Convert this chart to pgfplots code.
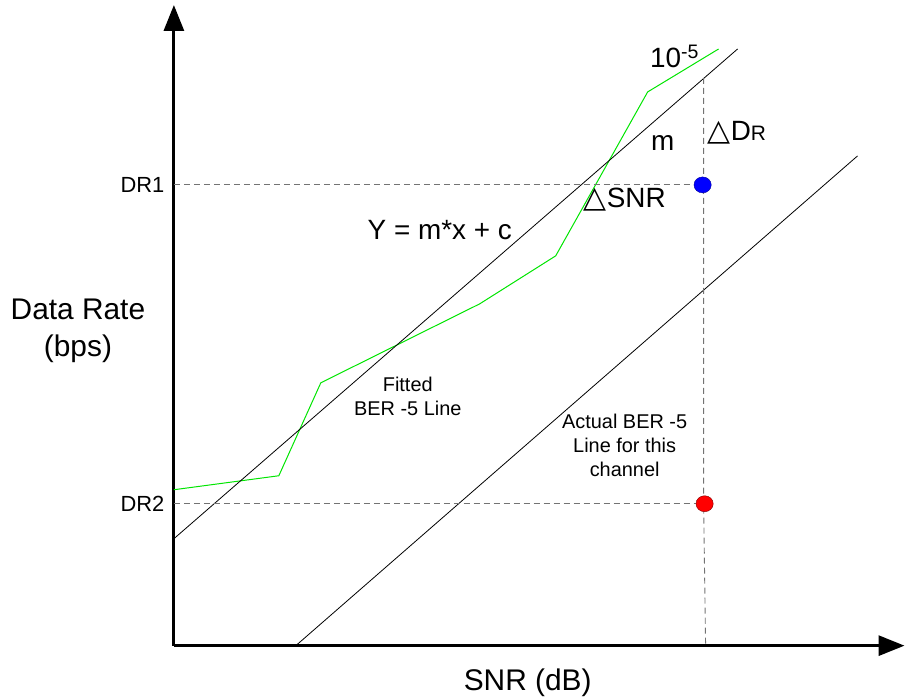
\documentclass[border=0pt]{standalone}
\usepackage{pgfplots}
\pgfplotsset{compat=1.18}
\usetikzlibrary{arrows.meta}
\usepackage{fontspec}
\setmainfont{Liberation Sans}
\newfontfamily\symfont{DejaVu Sans}

\newcommand{\labeltext}{\fontsize{30}{37}\selectfont}
\newcommand{\largetext}{\fontsize{28}{32}\selectfont}
\newcommand{\smalltext}{\fontsize{20}{24}\selectfont}

\begin{document}
\begin{tikzpicture}
\begin{axis}[
  scale only axis,
  width=731bp, height=641bp,
  xmin=174, xmax=905,
  ymin=53, ymax=694,
  axis lines=left,
  axis line style={line width=3bp},
  x axis line style={-{Triangle[length=26bp,width=20bp]}},
  y axis line style={-{Triangle[length=26bp,width=20bp]}},
  xtick=\empty,
  ytick={514,195},
  yticklabels={DR1,DR2},
  major tick length=0pt,
  yticklabel style={font=\fontsize{22}{26}\selectfont, xshift=-6bp},
  clip=false,
]
% fixed picture frame
\path (axis cs:0,0) rectangle (axis cs:906,699);

% measured BER 1e-5 curve
\addplot[green!90!black, line width=1bp] coordinates {
  (174,209) (279,223) (321,316) (480,395) (556,443) (648,607) (719,650)
};
% fitted line Y = m x + c
\addplot[black, line width=0.8bp] coordinates {(174,160) (738,650)};
% actual line for this channel
\addplot[black, line width=0.8bp] coordinates {(296,53) (858,543)};

% guide lines
\addplot[gray!90!black, line width=0.9bp, dash pattern=on 6bp off 4bp] coordinates {(174,514) (703,514)};
\addplot[gray!90!black, line width=0.9bp, dash pattern=on 6bp off 4bp] coordinates {(174,195) (705,195)};
\addplot[gray!90!black, line width=0.9bp, dash pattern=on 6bp off 4bp] coordinates {(704,621) (704,195) (706,53)};

% operating points
\addplot[only marks, mark=*, mark size=8bp, mark options={xscale=1.08, fill=blue, draw=blue!60!black}] coordinates {(703,514)};
\addplot[only marks, mark=*, mark size=8bp, mark options={xscale=1.08, fill=red, draw=red!50!black}] coordinates {(705,195)};

% annotations
\node[font=\largetext, anchor=center] at (axis cs:675,643) {10\textsuperscript{-5}};
\node[font=\largetext] at (axis cs:663,556) {m};
\node[font=\largetext, anchor=west, inner sep=0] at (axis cs:708,566) {{\symfont\fontsize{30}{32}\selectfont △}D{\fontsize{21}{24}\selectfont R}};
\node[font=\largetext, anchor=west, inner sep=0] at (axis cs:584,499) {{\symfont\fontsize{30}{32}\selectfont △}SNR};
\node[font=\largetext] at (axis cs:440,469) {Y = m*x + c};
\node[font=\smalltext, align=center] at (axis cs:408,302) {Fitted\\BER -5 Line};
\node[font=\smalltext, align=center] at (axis cs:625,253) {Actual BER -5\\Line for this\\channel};
\node[font=\labeltext, align=center] at (axis cs:78,368) {Data Rate\\(bps)};
\node[font=\labeltext] at (axis cs:528,16) {SNR (dB)};
\end{axis}
\end{tikzpicture}
\end{document}
